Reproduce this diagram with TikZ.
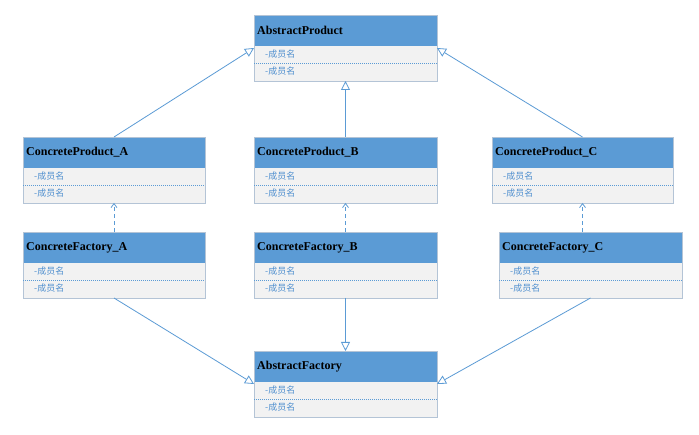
\documentclass[tikz,border=0pt]{standalone}
\usepackage{fontspec}
\setmainfont{Liberation Serif}
\newfontfamily\cjk{Noto Sans CJK SC}
\usetikzlibrary{arrows.meta}
\definecolor{headblue}{HTML}{5B9BD5}
\definecolor{bodygray}{HTML}{F2F2F2}
\definecolor{bordergray}{HTML}{B4C4D6}
\definecolor{linkblue}{HTML}{5B9BD5}
\definecolor{membblue}{HTML}{4F8FCF}
\tikzset{
  classbody/.style={draw=bordergray, fill=bodygray, line width=0.8pt, rectangle, inner sep=0pt, outer sep=0pt, minimum height=66pt},
  classhead/.style={fill=headblue, rectangle, inner sep=0pt, outer sep=0pt, minimum height=31pt},
  headtext/.style={inner sep=0pt, font=\fontsize{12}{14}\selectfont\bfseries, text=black},
  membtext/.style={inner sep=0pt, font=\cjk\fontsize{9}{11}\selectfont, text=membblue},
  sepline/.style={draw=linkblue, dash pattern=on 1pt off 1pt, line width=0.6pt},
  gen/.style={draw=linkblue, line width=0.8pt, -{Triangle[open, length=9pt, width=9pt, fill=white]}},
  dep/.style={draw=linkblue, line width=0.8pt, dashed, dash pattern=on 4pt off 3pt, -{Straight Barb[length=4pt, width=6pt]}}
}
\newcommand\umlclass[5]{%
  \node[classbody, minimum width=#4pt, anchor=north west] (#1) at (#2,#3) {};
  \node[classhead, minimum width=#4pt, anchor=north west] (#1-h) at (#2,#3) {};
  \draw[draw=bordergray, line width=0.8pt] (#1.north west) rectangle (#1.south east);
  \node[headtext, anchor=west] (#1-t) at ([xshift=3pt]#1-h.west) {#5};
  \draw[sepline] ([yshift=-48pt]#1.north west) -- ([yshift=-48pt]#1.north east);
  \node[membtext, anchor=west] (#1-m1) at ([xshift=11pt,yshift=-39pt]#1.north west) {-成员名};
  \node[membtext, anchor=west] (#1-m2) at ([xshift=11pt,yshift=-56pt]#1.north west) {-成员名};
}
\begin{document}
\begin{tikzpicture}[x=1pt,y=-1pt]
\useasboundingbox[fill=white] (0,0) rectangle (699,435);
\umlclass{AP}{254}{15}{183}{AbstractProduct}
\umlclass{CPA}{23}{137}{182}{ConcreteProduct\_A}
\umlclass{CPB}{254}{137}{183}{ConcreteProduct\_B}
\umlclass{CPC}{492}{137}{181}{ConcreteProduct\_C}
\umlclass{CFA}{23}{232}{182}{ConcreteFactory\_A}
\umlclass{CFB}{254}{232}{183}{ConcreteFactory\_B}
\umlclass{CFC}{499}{232}{183}{ConcreteFactory\_C}
\umlclass{AF}{254}{351}{183}{AbstractFactory}
% generalization
\draw[gen] (CPA.north) -- (AP.west);
\draw[gen] (CPB.north) -- (AP.south);
\draw[gen] (CPC.north) -- (AP.east);
\draw[gen] (CFA.south) -- (AF.west);
\draw[gen] (CFB.south) -- (AF.north);
\draw[gen] (CFC.south) -- (AF.east);
% dependency
\draw[dep] (CPA.south |- CFA.north) -- (CPA.south);
\draw[dep] (CPB.south |- CFB.north) -- (CPB.south);
\draw[dep] (CPC.south |- CFC.north) -- (CPC.south);
\end{tikzpicture}
\end{document}
